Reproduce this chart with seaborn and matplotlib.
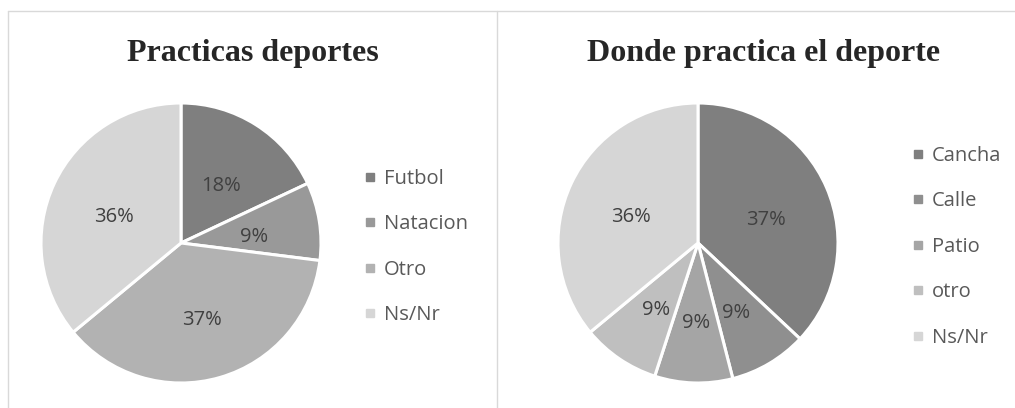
import matplotlib
matplotlib.use('Agg')
import matplotlib.pyplot as plt
import matplotlib.transforms as mtransforms
import seaborn as sns
from matplotlib.lines import Line2D

sns.set_theme(style='white')
plt.rcParams['font.family'] = ['Open Sans', 'DejaVu Sans']

# Datos de los dos gráficos
titulo_1 = 'Practicas deportes'
categorias_1 = ['Futbol', 'Natacion', 'Otro', 'Ns/Nr']
valores_1 = [18, 9, 37, 36]
colores_1 = ['#7f7f7f', '#999999', '#b2b2b2', '#d6d6d6']

titulo_2 = 'Donde practica el deporte'
categorias_2 = ['Cancha', 'Calle', 'Patio', 'otro', 'Ns/Nr']
valores_2 = [37, 9, 9, 9, 36]
colores_2 = ['#7f7f7f', '#8f8f8f', '#a5a5a5', '#bfbfbf', '#d6d6d6']

W, H = 1015, 408
fig = plt.figure(figsize=(W / 100, H / 100), dpi=100)


def px_axes(x0, y0, w, h):
    # x0, y0 = esquina superior izquierda en pixeles
    return fig.add_axes([x0 / W, 1 - (y0 + h) / H, w / W, h / H])


def torta(ax, valores, colores):
    wedges, _, autotexts = ax.pie(
        valores, colors=colores, startangle=90, counterclock=False,
        autopct='%d%%', pctdistance=0.53,
        wedgeprops=dict(edgecolor='white', linewidth=2.2),
        textprops=dict(color='#404040', fontsize=14.5))
    # las etiquetas de Excel quedan algo más abajo
    for t in autotexts:
        t.set_transform(mtransforms.offset_copy(ax.transData, fig=fig,
                                                x=0, y=-6, units='dots'))
    ax.set_xlim(-1, 1)
    ax.set_ylim(-1, 1)
    ax.set_aspect('equal')
    ax.axis('off')
    return wedges


def leyenda(categorias, colores, x, y):
    handles = [Line2D([], [], marker='s', linestyle='', markersize=6,
                      markerfacecolor=c, markeredgecolor=c) for c in colores]
    fig.legend(handles, categorias, loc='upper left',
               bbox_to_anchor=(x / W, 1 - y / H), frameon=False,
               fontsize=14.5, labelcolor='#595959', handlelength=0.5,
               handletextpad=0.45, labelspacing=1.26, borderpad=0)


ax1 = px_axes(41, 103, 280, 280)
torta(ax1, valores_1, colores_1)
ax2 = px_axes(558, 103, 280, 280)
torta(ax2, valores_2, colores_2)

leyenda(categorias_1, colores_1, 355, 159)
leyenda(categorias_2, colores_2, 903, 136)

fig.text(253 / W, 1 - 54 / H, titulo_1, ha='center', va='center',
         fontsize=23, fontweight='bold', family='Liberation Serif')
fig.text(764 / W, 1 - 54 / H, titulo_2, ha='center', va='center',
         fontsize=23, fontweight='bold', family='Liberation Serif')

# Bordes de los paneles
borde = '#d9d9d9'
fig.add_artist(Line2D([8 / W, 8 / W], [0, 1 - 11 / H], color=borde, lw=1))
fig.add_artist(Line2D([8 / W, 1], [1 - 11 / H, 1 - 11 / H], color=borde, lw=1))
fig.add_artist(Line2D([497 / W, 497 / W], [0, 1 - 11 / H], color=borde, lw=1))

plt.savefig('out.png', dpi=100, facecolor='white')
